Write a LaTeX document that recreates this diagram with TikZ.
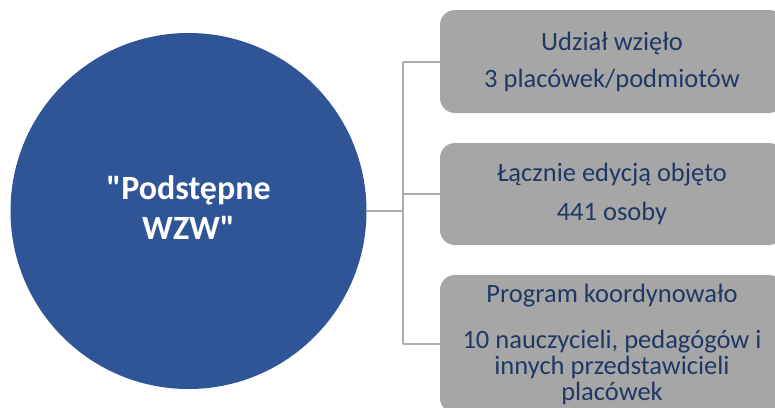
\documentclass[tikz,border=0pt]{standalone}
\usepackage{fontspec}
\setmainfont{Carlito}[Ligatures=TeXOff]
\usetikzlibrary{positioning}
\definecolor{hubblue}{HTML}{2F5597}
\definecolor{boxgray}{HTML}{A6A6A6}
\definecolor{boxtext}{HTML}{1F3864}
\definecolor{linkgray}{HTML}{ABABAB}

\begin{document}
\begin{tikzpicture}[x=1bp,y=-1bp,
  hub/.style={circle,fill=hubblue,minimum size=356bp,inner sep=0pt,text=white,
    font=\fontsize{34bp}{40bp}\selectfont\bfseries},
  info/.style={rectangle,rounded corners=15bp,fill=boxgray,text=boxtext,
    minimum width=344bp,inner sep=0pt,align=center,font=\fontsize{26.5bp}{26bp}\selectfont},
  link/.style={draw=linkgray,line width=2bp}]
  \useasboundingbox (0,0) rectangle (775,407);
  \clip (0,0) rectangle (775,407);

  \node[hub] (wzw) at (188.5,211)
    {\raisebox{5bp}{\begin{tabular}{@{}c@{}}"Podstępne\\WZW"\end{tabular}}};

  \node[info,minimum height=103bp] (udzial) at (612,61.5)
    {Udział wzięło\\[11bp]3 placówek/podmiotów};
  \node[info,minimum height=102bp] (osoby) at (612,194)
    {Łącznie edycją objęto\\[13bp]441 osoby};
  \node[info,minimum height=138bp] (koord) at (612,344)
    {Program koordynowało\\[20bp]10 nauczycieli, pedagógów i\\innych przedstawicieli\\placówek};

  % connectors
  \coordinate (fork) at (403,211);
  \draw[link] (wzw.east) -- (fork);
  \draw[link] (fork |- udzial.west) -- (fork |- koord.west);
  \draw[link] (fork |- udzial.west) -- (udzial.west);
  \draw[link] (fork |- osoby.west) -- (osoby.west);
  \draw[link] (fork |- koord.west) -- (koord.west);
\end{tikzpicture}
\end{document}
